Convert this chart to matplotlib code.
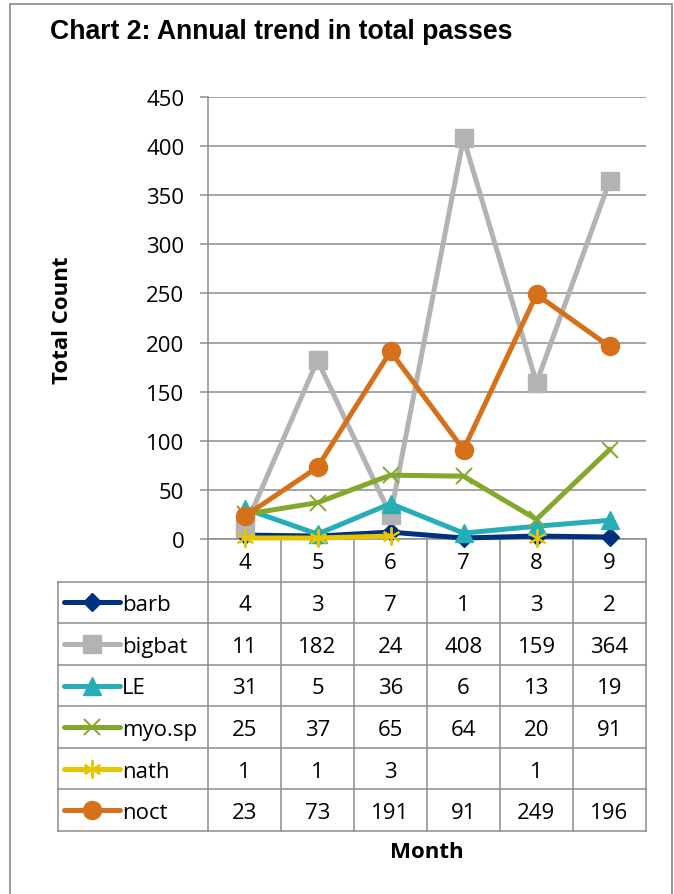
import numpy as np
import matplotlib
matplotlib.use("Agg")
import matplotlib.pyplot as plt
from matplotlib.patches import Rectangle

# ─── Data ───────────────────────────────────────────────────────────────
months = [4, 5, 6, 7, 8, 9]
series_names = ["barb", "bigbat", "LE", "myo.sp", "nath", "noct"]
barb = [4, 3, 7, 1, 3, 2]
bigbat = [11, 182, 24, 408, 159, 364]
le = [31, 5, 36, 6, 13, 19]
myo_sp = [25, 37, 65, 64, 20, 91]
nath = [1, 1, 3, None, 1, None]
noct = [23, 73, 191, 91, 249, 196]
series_values = [barb, bigbat, le, myo_sp, nath, noct]
y_ticks = [0, 50, 100, 150, 200, 250, 300, 350, 400, 450]

# ─── Styles ─────────────────────────────────────────────────────────────
styles = {
    "barb":   dict(color="#00307F", marker="D", ms=9, mew=1),
    "bigbat": dict(color="#B3B3B3", marker="s", ms=13, mew=1),
    "LE":     dict(color="#25AEB8", marker="^", ms=13, mew=1),
    "myo.sp": dict(color="#83A82B", marker="x", ms=12, mew=1.4),
    "nath":   dict(color="#E5C400", marker=(6, 2, 0), ms=13, mew=1.4),
    "noct":   dict(color="#D6701A", marker="o", ms=13, mew=1),
}
LINE_W = 3.6
GRID_C = "#8C8C8C"
FS = 16
TXT_DY = 2.5  # nudge table text down a little (pixels)
plt.rcParams["font.family"] = ["Open Sans", "DejaVu Sans"]

W, H = 674, 895
fig = plt.figure(figsize=(W / 100, H / 100), dpi=100)

# plot area in pixels
PL, PR, PT, PB = 208, 646, 98, 540
ax = fig.add_axes([PL / W, (H - PB) / H, (PR - PL) / W, (PB - PT) / H])
ax.set_xlim(3.5, 9.5)
ax.set_ylim(0, 450)
ax.set_yticks(y_ticks)
ax.yaxis.grid(True, color=GRID_C, linewidth=1.1)
ax.set_axisbelow(True)
for s in ("top", "right"):
    ax.spines[s].set_visible(False)
for s in ("left", "bottom"):
    ax.spines[s].set_color(GRID_C)
    ax.spines[s].set_linewidth(1.1)
ax.tick_params(axis="y", length=6, width=1.1, color=GRID_C, pad=11,
               labelsize=FS)
ax.set_xticks([])


def yfrac(py):
    """Pixel row -> axes fraction (y)."""
    return (PB - py) / (PB - PT)


# ─── Series ─────────────────────────────────────────────────────────────
for name, vals in zip(series_names, series_values):
    st = styles[name]
    y = np.array([np.nan if v is None else v for v in vals], dtype=float)
    ax.plot(months, y, color=st["color"], lw=LINE_W, marker=st["marker"],
            ms=st["ms"], mew=st["mew"], mec=st["color"], mfc=st["color"],
            clip_on=False, zorder=3)

# ─── Data table below the axis ──────────────────────────────────────────
tr = ax.get_xaxis_transform()
head_bot = 582.5
row_h = 41.6
n_rows = len(series_names)
rows_y = [head_bot + k * row_h for k in range(n_rows + 1)]
leg_left = 3.5 - (PL - 57.7) / 73.0
bounds = [m - 0.5 for m in months] + [months[-1] + 0.5]
line_kw = dict(color=GRID_C, lw=1.1, transform=tr, clip_on=False, zorder=2)

# header row: category labels with separators
for b in bounds:
    ax.plot([b, b], [yfrac(PB), yfrac(rows_y[-1])], **line_kw)
for m in months:
    ax.text(m, yfrac((PB + head_bot) / 2 + TXT_DY), str(m), transform=tr,
            ha="center", va="center", fontsize=FS)

# grid of body rows
for ry in rows_y:
    ax.plot([leg_left, bounds[-1]], [yfrac(ry), yfrac(ry)], **line_kw)
ax.plot([leg_left, leg_left], [yfrac(rows_y[0]), yfrac(rows_y[-1])], **line_kw)

# legend keys, names and values
key_x0 = 3.5 - (PL - 64) / 73.0
key_x1 = 3.5 - (PL - 120) / 73.0
key_xm = (key_x0 + key_x1) / 2
name_x = 3.5 - (PL - 122) / 73.0
for i, (name, vals) in enumerate(zip(series_names, series_values)):
    st = styles[name]
    yc = yfrac(rows_y[i] + row_h / 2)
    yt = yfrac(rows_y[i] + row_h / 2 + TXT_DY)
    ax.plot([key_x0, key_x1], [yc, yc], color=st["color"], lw=LINE_W,
            solid_capstyle="round", transform=tr, clip_on=False, zorder=3)
    ax.plot([key_xm], [yc], color=st["color"], marker=st["marker"],
            ms=st["ms"], mew=st["mew"], transform=tr, clip_on=False,
            zorder=4)
    ax.text(name_x, yt, name, transform=tr, ha="left", va="center",
            fontsize=FS)
    for m, v in zip(months, vals):
        if v is not None:
            ax.text(m, yt, str(v), transform=tr, ha="center", va="center",
                    fontsize=FS)

# ─── Labels ─────────────────────────────────────────────────────────────
fig.text(50 / W, 1 - 32 / H, "Chart 2: Annual trend in total passes",
         family=["Liberation Sans", "DejaVu Sans"], fontweight="bold",
         fontsize=19.2, ha="left", va="center")
fig.text(63 / W, 1 - 320 / H, "Total Count", rotation=90, fontweight="bold",
         fontsize=FS, ha="center", va="center")
fig.text(427 / W, 1 - 853 / H, "Month", fontweight="bold", fontsize=FS,
         ha="center", va="center")

# chart frame
fig.patches.append(Rectangle((10 / W, -0.05), 662 / W, 1.05 - 5 / H,
                             transform=fig.transFigure, fill=False,
                             edgecolor="#888888", lw=1.2))

fig.savefig("out.png", dpi=100)
